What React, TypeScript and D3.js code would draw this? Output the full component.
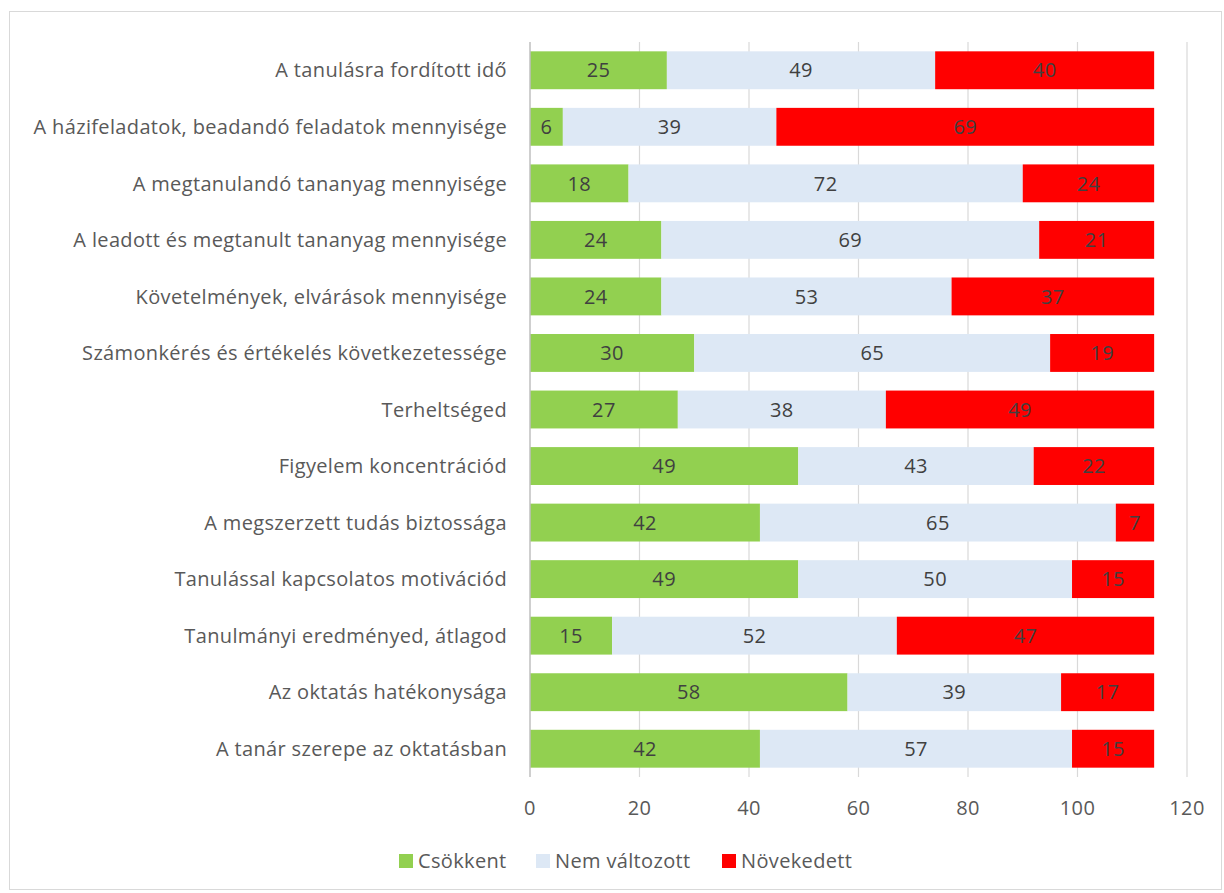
import React from "react";
import * as d3 from "d3";

const categories = [
  "A tanulásra fordított idő",
  "A házifeladatok, beadandó feladatok mennyisége",
  "A megtanulandó tananyag mennyisége",
  "A leadott és megtanult tananyag mennyisége",
  "Követelmények, elvárások mennyisége",
  "Számonkérés és értékelés következetessége",
  "Terheltséged",
  "Figyelem koncentrációd",
  "A megszerzett tudás biztossága",
  "Tanulással kapcsolatos motivációd",
  "Tanulmányi eredményed, átlagod",
  "Az oktatás hatékonysága",
  "A tanár szerepe az oktatásban",
];
const csokkent = [25, 6, 18, 24, 24, 30, 27, 49, 42, 49, 15, 58, 42];
const nemValtozott = [49, 39, 72, 69, 53, 65, 38, 43, 65, 50, 52, 39, 57];
const novekedett = [40, 69, 24, 21, 37, 19, 49, 22, 7, 15, 47, 17, 15];
const seriesNames = ["Csökkent", "Nem változott", "Növekedett"];
const seriesColors = ["#92d050", "#dde8f5", "#ff0000"];
const ticks = [0, 20, 40, 60, 80, 100, 120];

const W = 1224, H = 893;
const left = 530, right = 1187, top = 42, bottom = 777;
const font = "'Open Sans', sans-serif";
const fs = 20;
const ls = 0.35;

export default function App() {
  const x = d3.scaleLinear().domain([0, 120]).range([left, right]);
  const y = d3.scaleBand<string>().domain(categories).range([top, bottom]).paddingInner(0.33).paddingOuter(0.165);
  const data = categories.map((c, i) => ({ cat: c, v: [csokkent[i], nemValtozott[i], novekedett[i]] }));
  const stack = d3.stack<any>().keys(["0", "1", "2"]).value((d, k) => d.v[+k]);
  const layers = stack(data);
  const legendItems = [
    { x: 399 },
    { x: 536 },
    { x: 722 },
  ];
  return (
    <svg width={W} height={H} style={{ position: "absolute", left: 0, top: 0 }}>
      <rect x={0} y={0} width={W} height={H} fill="#fff" />
      <rect x={9.5} y={11.5} width={1212} height={878} fill="none" stroke="#d9d9d9" />
      {ticks.slice(1).map((t) => (
        <line key={t} x1={x(t)} x2={x(t)} y1={top} y2={bottom} stroke="#d9d9d9" strokeWidth={1.2} />
      ))}
      {layers.map((layer, li) =>
        layer.map((d, i) => (
          <rect key={`${li}-${i}`} x={x(d[0])} y={y(categories[i])} width={x(d[1]) - x(d[0])} height={y.bandwidth()} fill={seriesColors[li]} />
        ))
      )}
      {layers.map((layer, li) =>
        layer.map((d, i) => (
          <text key={`t${li}-${i}`} x={(x(d[0]) + x(d[1])) / 2} y={y(categories[i])! + y.bandwidth() / 2} dy="0.36em" textAnchor="middle" fontFamily={font} fontSize={fs} letterSpacing={ls} fill="#404040">
            {d[1] - d[0]}
          </text>
        ))
      )}
      <line x1={left} x2={left} y1={top} y2={bottom} stroke="#bfbfbf" strokeWidth={1.5} />
      {categories.map((c) => (
        <text key={c} x={left - 23} y={y(c)! + y.bandwidth() / 2} dy="0.36em" textAnchor="end" fontFamily={font} fontSize={fs} letterSpacing={ls} fill="#595959">
          {c}
        </text>
      ))}
      {ticks.map((t) => (
        <text key={t} x={x(t)} y={808} dy="0.36em" textAnchor="middle" fontFamily={font} fontSize={fs} letterSpacing={ls} fill="#595959">
          {t}
        </text>
      ))}
      {seriesNames.map((s, i) => (
        <g key={s}>
          <rect x={legendItems[i].x} y={854} width={14} height={14} fill={seriesColors[i]} />
          <text x={legendItems[i].x + 19} y={861} dy="0.36em" fontFamily={font} fontSize={fs} letterSpacing={ls} fill="#595959">
            {s}
          </text>
        </g>
      ))}
    </svg>
  );
}
